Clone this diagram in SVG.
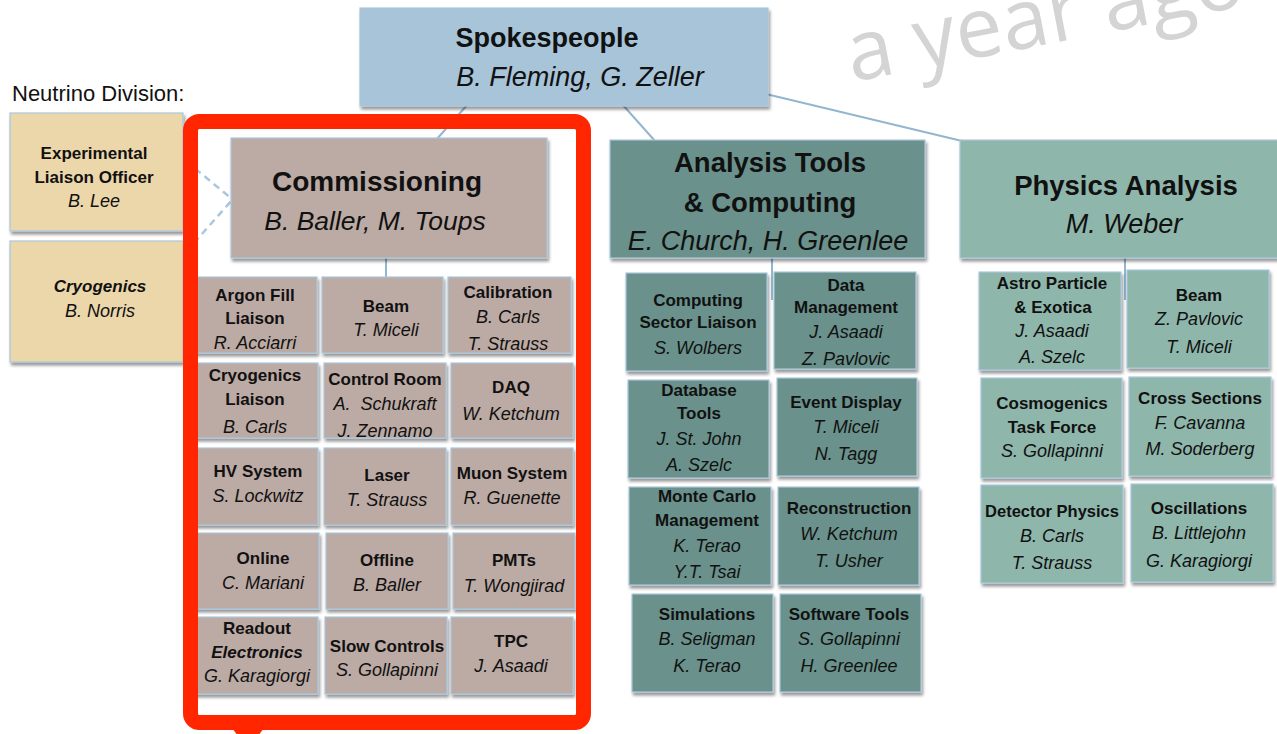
<svg xmlns="http://www.w3.org/2000/svg" width="1277" height="734" viewBox="0 0 1277 734">
<defs>
<filter id="sh" x="-10%" y="-10%" width="125%" height="135%">
<feDropShadow dx="1.5" dy="3" stdDeviation="1.5" flood-color="#000" flood-opacity="0.4"/>
</filter>
<style>
text{font-family:"Liberation Sans",Arial,sans-serif;fill:#111;text-anchor:middle}
.t{font-weight:bold;font-size:17px}
.n{font-style:italic;font-size:18px}
.bi{font-weight:bold;font-style:italic;font-size:17px}
.h{font-weight:bold;font-size:27.5px}
.hn{font-style:italic;font-size:26.5px}
.c{stroke:#a9c7dd;stroke-width:1.2;filter:url(#sh)}
.com{fill:#bcaaa4}
.ana{fill:#6b918b}
.phy{fill:#8fb6ab}
.tan{fill:#ecd7ab}
.spk{fill:#a7c4d9}
.ln{stroke:#93b6d0;stroke-width:2;fill:none}
.ds{stroke:#a9c7dd;stroke-width:2.5;fill:none;stroke-dasharray:7 5}
</style>
</defs>
<rect width="1277" height="734" fill="#fff"/>

<g id="connectors">
<line class="ln" x1="468" y1="104" x2="436" y2="140"/>
<line class="ln" x1="622" y1="104" x2="655" y2="141"/>
<line class="ln" x1="766" y1="94" x2="962" y2="141"/>
<line class="ln" x1="386" y1="256" x2="386" y2="278"/>
<line class="ln" x1="772" y1="256" x2="772" y2="300"/>
<line class="ln" x1="1125" y1="256" x2="1125" y2="300"/>
<line class="ds" x1="186" y1="161" x2="232" y2="199"/>
<line class="ds" x1="186" y1="252" x2="232" y2="200"/>
</g>

<g id="spokespeople">
<rect class="c spk" x="360" y="8" width="408" height="98"/>
<text class="h" x="547" y="47" style="font-size:27px">Spokespeople</text>
<text class="hn" x="580" y="86" style="font-size:27px">B. Fleming, G. Zeller</text>
</g>

<text x="12" y="101" style="font-size:22px;text-anchor:start">Neutrino Division:</text>

<g id="exp-liaison">
<rect class="c tan" x="10" y="113" width="173" height="118"/>
<text class="t" x="94" y="159">Experimental</text>
<text class="t" x="94" y="183">Liaison Officer</text>
<text class="n" x="94" y="207">B. Lee</text>
</g>
<g id="cryogenics">
<rect class="c tan" x="10" y="241" width="173" height="121"/>
<text class="bi" x="100" y="292">Cryogenics</text>
<text class="n" x="100" y="317">B. Norris</text>
</g>

<g id="commissioning">
<rect class="c com" x="231" y="138" width="316" height="120"/>
<text class="h" x="377" y="191" style="font-size:28px">Commissioning</text>
<text class="hn" x="375" y="230">B. Baller, M. Toups</text>
</g>

<g id="comm-argon"><rect class="c com" x="193" y="277" width="124" height="76"/>
<text class="t" x="255" y="301">Argon Fill</text><text class="t" x="255" y="324">Liaison</text><text class="n" x="255" y="349">R. Acciarri</text></g>
<g id="comm-beam"><rect class="c com" x="322" y="277" width="121" height="76"/>
<text class="t" x="386" y="312">Beam</text><text class="n" x="386" y="336">T. Miceli</text></g>
<g id="comm-calibration"><rect class="c com" x="448" y="277" width="123" height="76"/>
<text class="t" x="508" y="298">Calibration</text><text class="n" x="508" y="323">B. Carls</text><text class="n" x="508" y="350">T. Strauss</text></g>

<g id="comm-cryo"><rect class="c com" x="193" y="363" width="125" height="75"/>
<text class="t" x="255" y="381">Cryogenics</text><text class="t" x="255" y="405">Liaison</text><text class="n" x="255" y="433">B. Carls</text></g>
<g id="comm-control"><rect class="c com" x="324" y="363" width="122" height="75"/>
<text class="t" x="385" y="385">Control Room</text><text class="n" x="385" y="410">A.&#160; Schukraft</text><text class="n" x="385" y="437">J. Zennamo</text></g>
<g id="comm-daq"><rect class="c com" x="451" y="363" width="122" height="75"/>
<text class="t" x="511" y="393">DAQ</text><text class="n" x="511" y="420">W. Ketchum</text></g>

<g id="comm-hv"><rect class="c com" x="193" y="448" width="125" height="77"/>
<text class="t" x="258" y="477">HV System</text><text class="n" x="258" y="502">S. Lockwitz</text></g>
<g id="comm-laser"><rect class="c com" x="324" y="448" width="122" height="77"/>
<text class="t" x="387" y="481">Laser</text><text class="n" x="387" y="506">T. Strauss</text></g>
<g id="comm-muon"><rect class="c com" x="451" y="448" width="122" height="77"/>
<text class="t" x="512" y="479">Muon System</text><text class="n" x="512" y="504">R. Guenette</text></g>

<g id="comm-online"><rect class="c com" x="193" y="533" width="126" height="76"/>
<text class="t" x="263" y="564">Online</text><text class="n" x="263" y="589">C. Mariani</text></g>
<g id="comm-offline"><rect class="c com" x="326" y="533" width="122" height="76"/>
<text class="t" x="387" y="566">Offline</text><text class="n" x="387" y="591">B. Baller</text></g>
<g id="comm-pmts"><rect class="c com" x="453" y="533" width="122" height="76"/>
<text class="t" x="514" y="566">PMTs</text><text class="n" x="514" y="592">T. Wongjirad</text></g>

<g id="comm-readout"><rect class="c com" x="193" y="617" width="125" height="77"/>
<text class="t" x="257" y="634">Readout</text><text class="bi" x="257" y="658">Electronics</text><text class="n" x="257" y="682">G. Karagiorgi</text></g>
<g id="comm-slow"><rect class="c com" x="325" y="617" width="122" height="77"/>
<text class="t" x="387" y="652">Slow Controls</text><text class="n" x="387" y="676">S. Gollapinni</text></g>
<g id="comm-tpc"><rect class="c com" x="451" y="617" width="122" height="77"/>
<text class="t" x="511" y="647">TPC</text><text class="n" x="511" y="672">J. Asaadi</text></g>

<g id="analysis">
<rect class="c ana" x="610" y="140" width="315" height="118"/>
<text class="h" x="770" y="172">Analysis Tools</text>
<text class="h" x="770" y="212">&amp; Computing</text>
<text class="hn" x="768" y="250" style="font-size:27px">E. Church, H. Greenlee</text>
</g>

<g id="ana-computing"><rect class="c ana" x="626" y="273" width="141" height="98"/>
<text class="t" x="698" y="306">Computing</text><text class="t" x="698" y="328">Sector Liaison</text><text class="n" x="698" y="354">S. Wolbers</text></g>
<g id="ana-data"><rect class="c ana" x="774" y="272" width="142" height="97"/>
<text class="t" x="846" y="291">Data</text><text class="t" x="846" y="313">Management</text><text class="n" x="846" y="338">J. Asaadi</text><text class="n" x="846" y="365">Z. Pavlovic</text></g>
<g id="ana-database"><rect class="c ana" x="628" y="380" width="141" height="98"/>
<text class="t" x="699" y="396">Database</text><text class="t" x="699" y="419">Tools</text><text class="n" x="699" y="445">J. St. John</text><text class="n" x="699" y="471">A. Szelc</text></g>
<g id="ana-event"><rect class="c ana" x="777" y="378" width="140" height="98"/>
<text class="t" x="846" y="408">Event Display</text><text class="n" x="846" y="433">T. Miceli</text><text class="n" x="846" y="460">N. Tagg</text></g>
<g id="ana-mc"><rect class="c ana" x="629" y="487" width="142" height="98"/>
<text class="t" x="707" y="502">Monte Carlo</text><text class="t" x="707" y="526">Management</text><text class="n" x="707" y="552">K. Terao</text><text class="n" x="707" y="578">Y.T. Tsai</text></g>
<g id="ana-reco"><rect class="c ana" x="778" y="487" width="141" height="98"/>
<text class="t" x="849" y="514">Reconstruction</text><text class="n" x="849" y="540">W. Ketchum</text><text class="n" x="849" y="567">T. Usher</text></g>
<g id="ana-sim"><rect class="c ana" x="632" y="594" width="141" height="98"/>
<text class="t" x="707" y="620">Simulations</text><text class="n" x="707" y="645">B. Seligman</text><text class="n" x="707" y="672">K. Terao</text></g>
<g id="ana-sw"><rect class="c ana" x="780" y="594" width="141" height="98"/>
<text class="t" x="849" y="620">Software Tools</text><text class="n" x="849" y="645">S. Gollapinni</text><text class="n" x="849" y="672">H. Greenlee</text></g>

<g id="physics">
<rect class="c phy" x="960" y="140" width="330" height="118"/>
<text class="h" x="1126" y="195">Physics Analysis</text>
<text class="hn" x="1124" y="233" style="font-size:27px">M. Weber</text>
</g>

<g id="phy-astro"><rect class="c phy" x="979" y="272" width="142" height="98"/>
<text class="t" x="1052" y="289">Astro Particle</text><text class="t" x="1053" y="313">&amp; Exotica</text><text class="n" x="1052" y="337">J. Asaadi</text><text class="n" x="1052" y="363">A. Szelc</text></g>
<g id="phy-beam"><rect class="c phy" x="1127" y="270" width="142" height="98"/>
<text class="t" x="1199" y="301">Beam</text><text class="n" x="1199" y="325">Z. Pavlovic</text><text class="n" x="1199" y="353">T. Miceli</text></g>
<g id="phy-cosmo"><rect class="c phy" x="981" y="378" width="141" height="100"/>
<text class="t" x="1052" y="409">Cosmogenics</text><text class="t" x="1052" y="433">Task Force</text><text class="n" x="1052" y="457">S. Gollapinni</text></g>
<g id="phy-cross"><rect class="c phy" x="1129" y="377" width="142" height="99"/>
<text class="t" x="1200" y="404">Cross Sections</text><text class="n" x="1200" y="429">F. Cavanna</text><text class="n" x="1200" y="455">M. Soderberg</text></g>
<g id="phy-detector"><rect class="c phy" x="981" y="485" width="142" height="98"/>
<text class="t" x="1052" y="517" style="font-size:16.5px">Detector Physics</text><text class="n" x="1052" y="542">B. Carls</text><text class="n" x="1052" y="569">T. Strauss</text></g>
<g id="phy-osc"><rect class="c phy" x="1131" y="484" width="142" height="98"/>
<text class="t" x="1199" y="514">Oscillations</text><text class="n" x="1199" y="539">B. Littlejohn</text><text class="n" x="1199" y="567">G. Karagiorgi</text></g>

<g id="highlight">
<rect x="190.5" y="121.5" width="393" height="601" rx="9" fill="none" stroke="#ff2600" stroke-width="15"/>
<polygon points="232,728 264,728 258,736 238,736" fill="#ff2600"/>
</g>

<text transform="translate(852,82) rotate(-11)" x="0" y="0" style="font-family:'Open Sans',sans-serif;font-size:84px;fill:#d4d4d4;text-anchor:start">a year ago</text>
</svg>
